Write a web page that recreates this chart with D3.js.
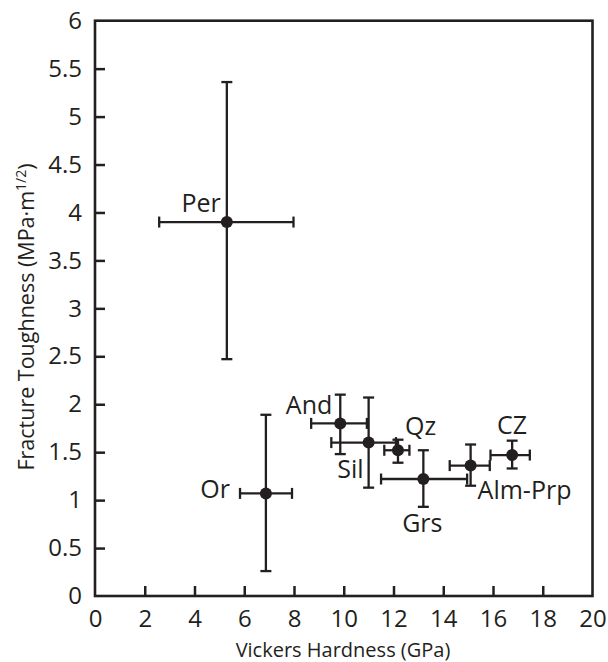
<!DOCTYPE html>
<html>
<head>
<meta charset="utf-8">
<script src="https://cdn.jsdelivr.net/npm/d3@7"></script>
<style>
  body { margin: 0; background: #fff; }
  text { font-family: "Open Sans", sans-serif; fill: #231f20; }
</style>
</head>
<body>
<svg width="608" height="662"></svg>
<script>
// minerals, Vickers hardness (GPa) and fracture toughness (MPa·m^1/2)
const minerals = ['Per', 'Or', 'And', 'Sil', 'Qz', 'Grs', 'Alm-Prp', 'CZ'];
const hardness = [5.3, 6.87, 9.86, 11.0, 12.18, 13.2, 15.1, 16.77];
const hardnessLow = [2.58, 5.83, 8.69, 9.5, 11.63, 11.5, 14.26, 15.9];
const hardnessHigh = [7.98, 7.92, 10.93, 12.1, 12.64, 14.96, 15.87, 17.48];
const toughness = [3.9, 1.07, 1.80, 1.60, 1.52, 1.22, 1.36, 1.47];
const toughnessLow = [2.47, 0.26, 1.48, 1.13, 1.39, 0.93, 1.15, 1.33];
const toughnessHigh = [5.36, 1.89, 2.10, 2.07, 1.63, 1.52, 1.58, 1.62];
const xTicks = [0, 2, 4, 6, 8, 10, 12, 14, 16, 18, 20];
const yTicks = [0, 0.5, 1, 1.5, 2, 2.5, 3, 3.5, 4, 4.5, 5, 5.5, 6];

const ink = '#231f20';
const svg = d3.select('svg');

const x = d3.scaleLinear().domain([0, 20]).range([95, 592.5]);
const y = d3.scaleLinear().domain([0, 6]).range([596, 20.7]);

// label placement, relative to the point
const labelPos = {
  'Per': ['end', -6, -10],
  'Or': ['end', -36, 5],
  'And': ['end', -8, -9],
  'Sil': ['end', -5, 35],
  'Qz': ['start', 7, -15],
  'Grs': ['middle', -1, 53],
  'Alm-Prp': ['start', 7, 33],
  'CZ': ['middle', 0, -21]
};

const data = minerals.map(function(m, i) {
  return {
    name: m, x: hardness[i], y: toughness[i],
    x0: hardnessLow[i], x1: hardnessHigh[i],
    y0: toughnessLow[i], y1: toughnessHigh[i]
  };
});

// frame
svg.append('rect')
  .attr('x', x(0)).attr('y', y(6))
  .attr('width', x(20) - x(0)).attr('height', y(0) - y(6))
  .attr('fill', 'none').attr('stroke', ink).attr('stroke-width', 2.6);

// axes, ticks pointing inward
const xAxis = svg.append('g')
  .attr('transform', 'translate(0,' + y(0) + ')')
  .call(d3.axisBottom(x).tickValues(xTicks).tickSizeInner(-10).tickSizeOuter(0).tickPadding(14));
const yAxis = svg.append('g')
  .attr('transform', 'translate(' + x(0) + ',0)')
  .call(d3.axisLeft(y).tickValues(yTicks).tickSizeInner(-10).tickSizeOuter(0).tickPadding(13)
    .tickFormat(d3.format('')));

[xAxis, yAxis].forEach(function(g) {
  g.select('.domain').remove();
  g.selectAll('.tick line').attr('stroke', ink).attr('stroke-width', 2.5);
  g.selectAll('.tick text').attr('fill', ink).style('font-size', '24px')
    .style('font-family', '"Open Sans", sans-serif');
});
xAxis.selectAll('.tick text').attr('dy', '0.71em');
xAxis.selectAll('.tick').filter(function(d) { return d == 0 || d == 20; })
  .select('line').remove();
yAxis.selectAll('.tick').filter(function(d) { return d == 0 || d == 6; })
  .select('line').remove();

// error bars
const cap = 5.5;
const bars = svg.append('g').attr('stroke', ink).attr('stroke-width', 2.3).attr('fill', 'none');
data.forEach(function(d) {
  bars.append('line').attr('x1', x(d.x0)).attr('x2', x(d.x1)).attr('y1', y(d.y)).attr('y2', y(d.y));
  bars.append('line').attr('x1', x(d.x0)).attr('x2', x(d.x0)).attr('y1', y(d.y) - cap).attr('y2', y(d.y) + cap);
  bars.append('line').attr('x1', x(d.x1)).attr('x2', x(d.x1)).attr('y1', y(d.y) - cap).attr('y2', y(d.y) + cap);
  bars.append('line').attr('x1', x(d.x)).attr('x2', x(d.x)).attr('y1', y(d.y0)).attr('y2', y(d.y1));
  bars.append('line').attr('x1', x(d.x) - cap).attr('x2', x(d.x) + cap).attr('y1', y(d.y0)).attr('y2', y(d.y0));
  bars.append('line').attr('x1', x(d.x) - cap).attr('x2', x(d.x) + cap).attr('y1', y(d.y1)).attr('y2', y(d.y1));
});

svg.append('g').selectAll('circle')
  .data(data)
  .enter().append('circle')
    .attr('cx', function(d) { return x(d.x); })
    .attr('cy', function(d) { return y(d.y); })
    .attr('r', 6)
    .attr('fill', ink);

svg.append('g').selectAll('text')
  .data(data)
  .enter().append('text')
    .attr('x', function(d) { return x(d.x) + labelPos[d.name][1]; })
    .attr('y', function(d) { return y(d.y) + labelPos[d.name][2]; })
    .attr('text-anchor', function(d) { return labelPos[d.name][0]; })
    .style('font-size', '25px')
    .text(function(d) { return d.name; });

// axis titles
svg.append('text')
  .attr('x', 343).attr('y', 657)
  .attr('text-anchor', 'middle')
  .style('font-size', '20px')
  .text('Vickers Hardness (GPa)');

const yt = svg.append('text')
  .attr('transform', 'translate(34,317) rotate(-90)')
  .attr('text-anchor', 'middle')
  .style('font-size', '21.5px');
yt.append('tspan').text('Fracture Toughness (MPa·m');
yt.append('tspan').attr('dy', -8).style('font-size', '14px').text('1/2');
yt.append('tspan').attr('dy', 8).text(')');
</script>
</body>
</html>
